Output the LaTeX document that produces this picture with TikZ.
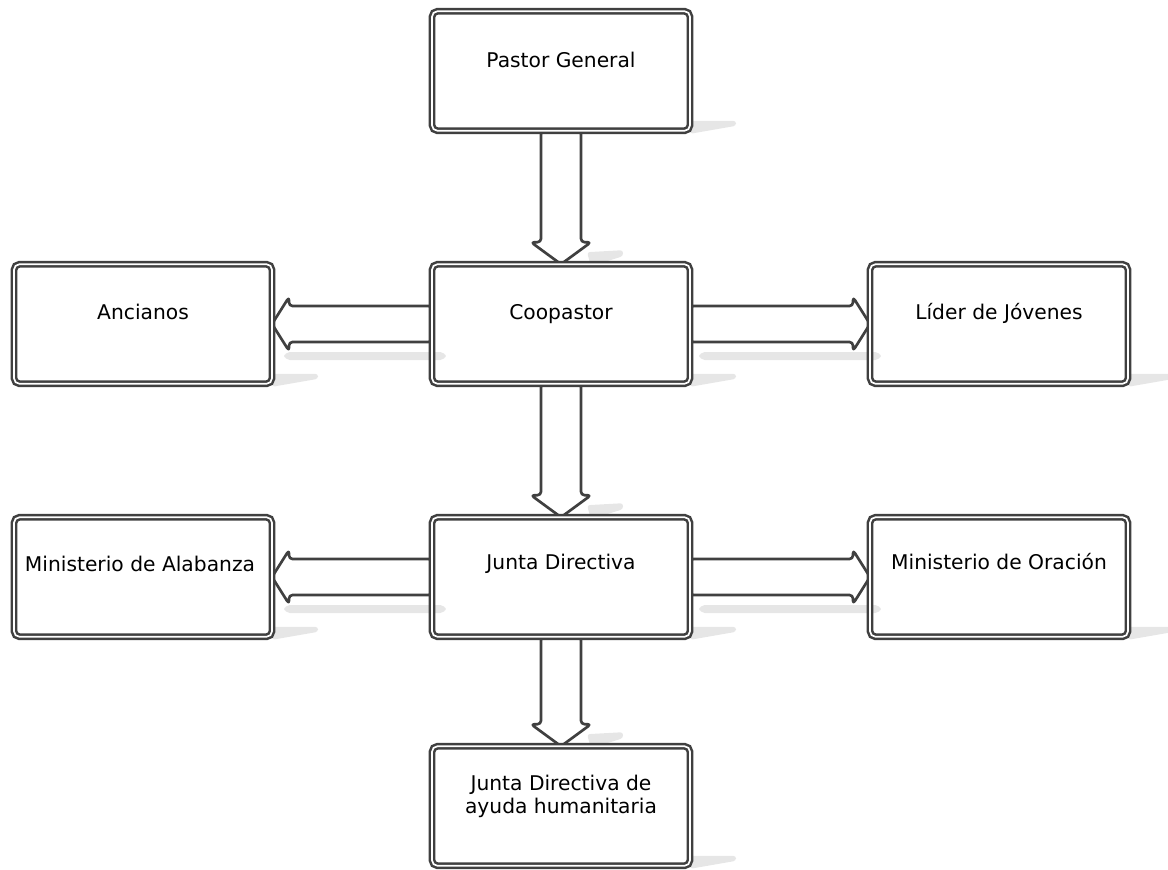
\documentclass[tikz,border=0pt]{standalone}
\usepackage{fontspec}
\setmainfont{DejaVu Sans}
\usetikzlibrary{calc,backgrounds}

\definecolor{edgegray}{HTML}{404040}
\definecolor{shadowgray}{HTML}{E6E6E6}

\tikzset{
  orgbox/.style={draw=edgegray, line width=1.8pt, double=white, double distance=1.2pt,
    rounded corners=4pt, minimum width=6.45cm, minimum height=2.99cm, outer sep=0pt, inner sep=0pt},
  orgtext/.style={font=\fontsize{14.4}{16}\selectfont, align=center, inner sep=0pt, anchor=base},
  fatarrow/.style={draw=edgegray, fill=white, line width=1.9pt, rounded corners=2.5pt, line join=round},
  boxshadow/.style={fill=shadowgray, draw=none, rounded corners=2pt}
}

% hollow block arrows between two boxes (units are pixels)
\newcommand{\downblock}[2]{%
  \fill[boxshadow] ($(#2.north)+(26,-12)$) -- ($(#2.north)+(62,-14)$) -- ($(#2.north)+(62,-8)$)
    -- ($(#2.north)+(30,2)$) -- cycle;
  \draw[fatarrow] ($(#1.south)+(-20,0)$) -- ($(#2.north)+(-20,-22)$) -- ($(#2.north)+(-30,-22)$)
    -- (#2.north) -- ($(#2.north)+(30,-22)$) -- ($(#2.north)+(20,-22)$) -- ($(#1.south)+(20,0)$) -- cycle;
}
\newcommand{\leftblock}[2]{%
  \fill[boxshadow, rounded corners=4pt] ($(#2.east)+(12,28)$) rectangle ($(#1.west)+(14,36)$);
  \draw[fatarrow] ($(#1.west)+(0,-18)$) -- ($(#2.east)+(17,-18)$) -- ($(#2.east)+(17,-27)$)
    -- (#2.east) -- ($(#2.east)+(17,27)$) -- ($(#2.east)+(17,18)$) -- ($(#1.west)+(0,18)$) -- cycle;
}
\newcommand{\rightblock}[2]{%
  \fill[boxshadow, rounded corners=4pt] ($(#1.east)+(9,28)$) rectangle ($(#2.west)+(11,36)$);
  \draw[fatarrow] ($(#1.east)+(0,-18)$) -- ($(#2.west)+(-17,-18)$) -- ($(#2.west)+(-17,-27)$)
    -- (#2.west) -- ($(#2.west)+(-17,27)$) -- ($(#2.west)+(-17,18)$) -- ($(#1.east)+(0,18)$) -- cycle;
}
\newcommand{\boxshade}[1]{%
  \fill[boxshadow] ($(#1.south east)+(0,-10)$) -- ($(#1.south east)+(46,-10)$)
    -- ($(#1.south east)+(46,-5)$) -- ($(#1.south east)+(0,3)$) -- cycle;
}

\begin{document}
\begin{tikzpicture}[x=0.025cm, y=-0.025cm]
\useasboundingbox (0,0) rectangle (1168,869);

% boxes
\node[orgbox] (pastor) at (561,71) {};
\node[orgbox] (coop)   at (561,324) {};
\node[orgbox] (anc)    at (143,324) {};
\node[orgbox] (jov)    at (999,324) {};
\node[orgbox] (junta)  at (561,577) {};
\node[orgbox] (alab)   at (143,577) {};
\node[orgbox] (orac)   at (999,577) {};
\node[orgbox] (ayuda)  at (561,806) {};

% labels
\node[orgtext] (pastorlbl) at ($(pastor)+(0,-4)$) {Pastor General};
\node[orgtext] (cooplbl)   at ($(coop)+(0,-5)$)   {Coopastor};
\node[orgtext] (anclbl)    at ($(anc)+(0,-5)$)    {Ancianos};
\node[orgtext] (jovlbl)    at ($(jov)+(0,-5)$)    {Líder de Jóvenes};
\node[orgtext] (juntalbl)  at ($(junta)+(0,-8)$)  {Junta Directiva};
\node[orgtext] (alablbl)   at ($(alab)+(-3,-6)$)  {Ministerio de Alabanza};
\node[orgtext] (oraclbl)   at ($(orac)+(0,-8)$)   {Ministerio de Oración};
\node[orgtext] (ayudalbl)  at ($(ayuda)+(0,7)$)   {Junta Directiva de\\ayuda humanitaria};

\begin{scope}[on background layer]
  \boxshade{pastor} \boxshade{coop} \boxshade{anc} \boxshade{jov}
  \boxshade{junta} \boxshade{alab} \boxshade{orac} \boxshade{ayuda}
  \downblock{pastor}{coop}
  \downblock{coop}{junta}
  \downblock{junta}{ayuda}
  \leftblock{coop}{anc}
  \rightblock{coop}{jov}
  \leftblock{junta}{alab}
  \rightblock{junta}{orac}
\end{scope}
\end{tikzpicture}
\end{document}
